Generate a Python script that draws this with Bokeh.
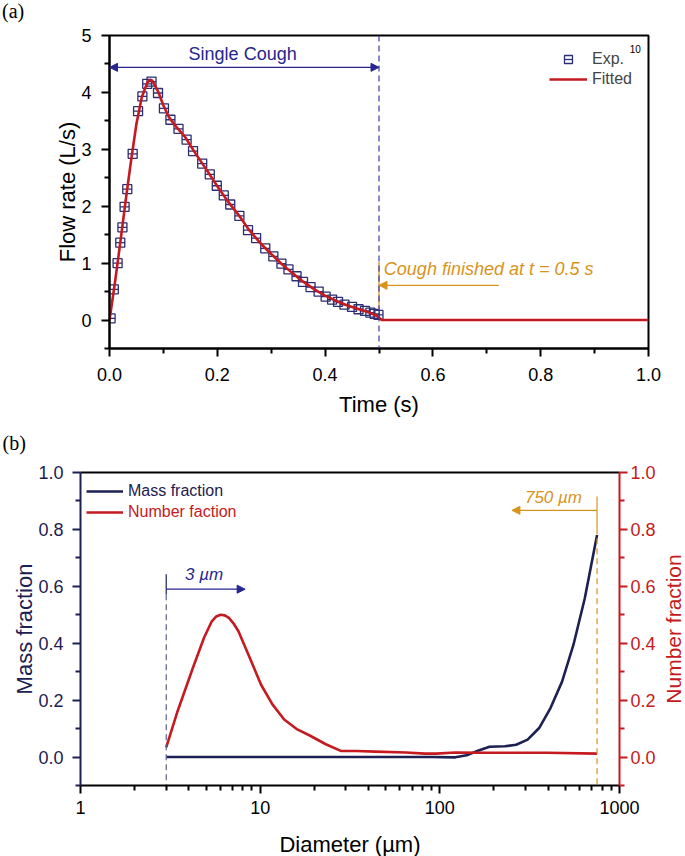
from bokeh.plotting import figure
from bokeh.layouts import row
from bokeh.models import (Range1d, LinearAxis, FixedTicker, PrintfTickFormatter, Title, Div,
                          Arrow, NormalHead, Span, Label, Legend, LegendItem)
from bokeh.embed import file_html
from bokeh.resources import INLINE

# ---------------- Panel (a) data ----------------
exp_time = [0.002, 0.008, 0.015, 0.020, 0.024, 0.028, 0.033, 0.043, 0.053, 0.061, 0.070, 0.078,
            0.090, 0.101, 0.113, 0.128, 0.143, 0.155, 0.172, 0.186, 0.199, 0.212, 0.224, 0.241,
            0.257, 0.272, 0.289, 0.304, 0.319, 0.332, 0.347, 0.359, 0.373, 0.388, 0.401, 0.413,
            0.424, 0.436, 0.450, 0.462, 0.474, 0.484, 0.492, 0.499]
exp_flow = [0.03, 0.54, 1.00, 1.36, 1.63, 1.99, 2.30, 2.92, 3.67, 3.93, 4.15, 4.19,
            3.99, 3.72, 3.52, 3.36, 3.17, 2.97, 2.75, 2.56, 2.36, 2.19, 2.03, 1.83,
            1.58, 1.44, 1.26, 1.12, 0.99, 0.89, 0.77, 0.67, 0.58, 0.50, 0.41, 0.36,
            0.32, 0.27, 0.23, 0.19, 0.16, 0.13, 0.11, 0.09]
fit_time = [0.0, 0.01, 0.02, 0.03, 0.04, 0.05, 0.06, 0.07, 0.075, 0.08, 0.09, 0.10, 0.11, 0.12,
            0.14, 0.16, 0.18, 0.20, 0.22, 0.24, 0.26, 0.28, 0.30, 0.32, 0.34, 0.36, 0.38, 0.40,
            0.42, 0.44, 0.46, 0.48, 0.495, 0.505, 1.0]
fit_flow = [0.0, 0.65, 1.36, 2.10, 2.80, 3.45, 3.92, 4.17, 4.22, 4.20, 4.02, 3.77, 3.57, 3.44,
            3.22, 2.92, 2.64, 2.35, 2.08, 1.84, 1.57, 1.35, 1.16, 0.98, 0.82, 0.67, 0.54, 0.43,
            0.34, 0.26, 0.20, 0.14, 0.08, 0.0, 0.0]
time_ticks = [0.0, 0.2, 0.4, 0.6, 0.8, 1.0]
time_minor = [0.1, 0.3, 0.5, 0.7, 0.9]
flow_ticks = [0, 1, 2, 3, 4, 5]
flow_minor = [-0.5, 0.5, 1.5, 2.5, 3.5, 4.5]

# ---------------- Panel (b) data ----------------
mass_d = [3, 10, 50, 90, 122, 141, 163, 189, 230, 266, 308, 357, 413, 479, 554, 641, 750]
mass_frac = [0.0, 0.0, 0.0, 0.0, -0.001, 0.006, 0.022, 0.036, 0.038, 0.043, 0.061, 0.102,
             0.172, 0.265, 0.394, 0.558, 0.78]
num_d = [3, 3.47, 4.22, 4.87, 5.38, 5.7, 6.02, 6.35, 6.70, 7.1, 7.57, 8.76, 10.1, 11.7, 13.6,
         16.1, 19.1, 23.2, 28.3, 34.3, 43.8, 64.7, 82.6, 95.6, 122, 189, 394, 750]
num_frac = [0.034, 0.161, 0.313, 0.419, 0.477, 0.494, 0.50, 0.498, 0.489, 0.470, 0.442, 0.348,
            0.255, 0.185, 0.132, 0.097, 0.074, 0.045, 0.021, 0.021, 0.019, 0.016, 0.012, 0.012,
            0.016, 0.015, 0.015, 0.012]
diam_ticks = [1, 10, 100, 1000]
diam_minor = [2, 3, 4, 5, 6, 7, 8, 9, 20, 30, 40, 50, 60, 70, 80, 90,
              200, 300, 400, 500, 600, 700, 800, 900]
frac_ticks = [0.0, 0.2, 0.4, 0.6, 0.8, 1.0]
frac_minor = [-0.1, 0.1, 0.3, 0.5, 0.7, 0.9]

# ---------------- styles ----------------
FONT = "Liberation Sans"
SERIF = "Liberation Serif"
NAVY = "#2b2e72"
NAVY_T = "#26268e"
NAVY_DARK = "#1d2052"
RED = "#c41a20"
ORANGE = "#d8931c"


def style_axis(ax, color="black"):
    ax.axis_line_width = 2
    ax.axis_line_color = color
    ax.major_tick_line_width = 2
    ax.minor_tick_line_width = 2
    ax.major_tick_line_color = color
    ax.minor_tick_line_color = color
    ax.major_tick_in = 0
    ax.major_tick_out = 8
    ax.minor_tick_in = 0
    ax.minor_tick_out = 5
    ax.major_label_text_font = FONT
    ax.major_label_text_font_size = "18px"
    ax.major_label_text_color = color
    ax.axis_label_text_font = FONT
    ax.axis_label_text_font_size = "22px"
    ax.axis_label_text_font_style = "normal"
    ax.axis_label_text_color = color


# panel label (a) as a thin text strip above the upper chart
label_a = Div(text="(a)", width=60, height=22, margin=0,
              styles={"font-family": SERIF, "font-size": "20px", "line-height": "22px",
                      "padding-left": "2px", "color": "black"})

# ================= Panel (a) =================
p1 = figure(frame_width=539, frame_height=313, x_range=Range1d(0, 1), y_range=Range1d(-0.5, 5),
            output_backend="svg", toolbar_location=None,
            min_border_left=109, min_border_right=37, min_border_top=13, min_border_bottom=114)
p1.xgrid.visible = False
p1.ygrid.visible = False
p1.outline_line_color = "black"
p1.outline_line_width = 2

p1.xaxis.ticker = FixedTicker(ticks=time_ticks, minor_ticks=time_minor)
p1.xaxis.formatter = PrintfTickFormatter(format="%.1f")
p1.xaxis.axis_label = "Time (s)"
p1.yaxis.ticker = FixedTicker(ticks=flow_ticks, minor_ticks=flow_minor)
p1.yaxis.formatter = PrintfTickFormatter(format="%d")
p1.yaxis.axis_label = "Flow rate (L/s)"
style_axis(p1.xaxis[0])
style_axis(p1.yaxis[0])
p1.xaxis.major_label_standoff = 11
p1.xaxis.axis_label_standoff = 8
p1.yaxis.major_label_standoff = 10
p1.yaxis.axis_label_standoff = -2

# panel label of the lower chart, placed under the upper chart's x-axis title
p1.add_layout(Title(text="(b)", align="left", offset=-107, standoff=20, text_font=SERIF,
                    text_font_size="20px", text_font_style="normal", text_color="black"),
              "below")

sq = p1.scatter(exp_time, exp_flow, marker="square", size=9, fill_color=None,
                line_color=NAVY, line_width=1.3)
dsh = p1.scatter(exp_time, exp_flow, marker="dash", size=9, line_color=NAVY, line_width=1.3)
fit = p1.line(fit_time, fit_flow, line_color=RED, line_width=2.6)

p1.add_layout(Span(location=0.5, dimension="height", line_color="#3b3ba6",
                   line_dash="6 4", line_width=1.2))
p1.add_layout(Arrow(x_start=0.0, y_start=4.44, x_end=0.5, y_end=4.44,
                    start=NormalHead(size=8, fill_color=NAVY_T, line_color=NAVY_T),
                    end=NormalHead(size=8, fill_color=NAVY_T, line_color=NAVY_T),
                    line_color=NAVY_T, line_width=1.2))
p1.add_layout(Label(x=0.247, y=4.68, text="Single Cough", text_align="center",
                    text_baseline="middle", text_font=FONT, text_font_size="18px",
                    text_color=NAVY_T))
p1.segment(x0=[0.5], y0=[0.18], x1=[0.5], y1=[1.02], line_color=ORANGE, line_width=1.3)
p1.add_layout(Arrow(x_start=0.722, y_start=0.61, x_end=0.5, y_end=0.61,
                    end=NormalHead(size=8, fill_color=ORANGE, line_color=ORANGE),
                    line_color=ORANGE, line_width=1.2))
p1.add_layout(Label(x=0.509, y=0.89, text="Cough finished at t = 0.5 s", text_align="left",
                    text_baseline="middle", text_font=FONT, text_font_size="18px",
                    text_font_style="italic", text_color=ORANGE))

leg1 = Legend(items=[LegendItem(label="Exp.", renderers=[sq, dsh]),
                     LegendItem(label="Fitted", renderers=[fit])],
              location=(440, 259), glyph_width=38, glyph_height=20, label_height=20,
              padding=4, spacing=0, label_standoff=5, border_line_color=None,
              background_fill_alpha=0, label_text_font=FONT, label_text_font_size="16px",
              margin=0)
p1.add_layout(leg1)
p1.add_layout(Label(x=0.965, y=4.77, text="10", text_font=FONT, text_font_size="10px",
                    text_baseline="middle", text_align="left", text_color="black"))

# ================= Panel (b) =================
TOP_B = 9
BOTTOM_B = 72
p2 = figure(frame_width=539, frame_height=313, x_axis_type="log", x_range=Range1d(1, 1000),
            y_range=Range1d(-0.1, 1.0), output_backend="svg", toolbar_location=None,
            min_border_left=80, min_border_right=36, min_border_top=TOP_B,
            min_border_bottom=BOTTOM_B)
p2.xgrid.visible = False
p2.ygrid.visible = False
p2.outline_line_color = None
p2.extra_y_ranges = {"num": Range1d(-0.1, 1.0)}

p2.xaxis.ticker = FixedTicker(ticks=diam_ticks, minor_ticks=diam_minor)
p2.xaxis.formatter = PrintfTickFormatter(format="%d")
p2.xaxis.axis_label = "Diameter (\u00b5m)"
p2.yaxis.ticker = FixedTicker(ticks=frac_ticks, minor_ticks=frac_minor)
p2.yaxis.formatter = PrintfTickFormatter(format="%.1f")
p2.yaxis.axis_label = "Mass fraction"
style_axis(p2.xaxis[0])
style_axis(p2.yaxis[0], NAVY_DARK)
p2.xaxis.major_label_standoff = 7
p2.xaxis.axis_label_standoff = 15
p2.yaxis.major_label_standoff = 9
p2.yaxis.axis_label_standoff = -2

rax = LinearAxis(y_range_name="num",
                 ticker=FixedTicker(ticks=frac_ticks, minor_ticks=frac_minor),
                 formatter=PrintfTickFormatter(format="%.1f"))
style_axis(rax, RED)
rax.major_label_standoff = 3
p2.add_layout(rax, "right")
top2 = LinearAxis(ticker=FixedTicker(ticks=[]), axis_line_width=2, axis_line_color="black",
                  major_tick_out=0, minor_tick_out=0, major_label_text_font_size="0px")
p2.add_layout(top2, "above")

mass = p2.line(mass_d, mass_frac, line_color=NAVY_DARK, line_width=2.6)
num = p2.line(num_d, num_frac, line_color=RED, line_width=2.6, y_range_name="num")

# 3 um marker
p2.segment(x0=[3], y0=[0.572], x1=[3], y1=[-0.1], line_color="#5a5f8a", line_width=1.2,
           line_dash="6 4")
p2.segment(x0=[3], y0=[0.642], x1=[3], y1=[0.572], line_color=NAVY_DARK, line_width=1.2)
p2.add_layout(Arrow(x_start=3, y_start=0.59, x_end=8.25, y_end=0.59,
                    end=NormalHead(size=8, fill_color=NAVY_T, line_color=NAVY_T),
                    line_color=NAVY_T, line_width=1.3))
p2.add_layout(Label(x=3.82, y=0.64, text="3 \u00b5m", text_align="left", text_baseline="middle",
                    text_font=FONT, text_font_size="17px", text_font_style="italic",
                    text_color=NAVY_T))
# 750 um marker
p2.segment(x0=[750], y0=[0.804], x1=[750], y1=[-0.1], line_color=ORANGE, line_width=1.2,
           line_dash="6 4")
p2.segment(x0=[750], y0=[0.916], x1=[750], y1=[0.804], line_color=ORANGE, line_width=1.2)
p2.add_layout(Arrow(x_start=750, y_start=0.867, x_end=252, y_end=0.867,
                    end=NormalHead(size=8, fill_color=ORANGE, line_color=ORANGE),
                    line_color=ORANGE, line_width=1.2))
p2.add_layout(Label(x=429, y=0.912, text="750 \u00b5m", text_align="center",
                    text_baseline="middle", text_font=FONT, text_font_size="17px",
                    text_font_style="italic", text_color=ORANGE))

legA = Legend(items=[LegendItem(label="Mass fraction", renderers=[mass])],
              location=(6, 284), glyph_width=37, glyph_height=20, label_height=20,
              padding=0, spacing=0, label_standoff=5, border_line_color=None,
              background_fill_alpha=0, label_text_font=FONT, label_text_font_size="16px",
              label_text_color=NAVY_DARK, margin=0)
legB = Legend(items=[LegendItem(label="Number faction", renderers=[num])],
              location=(6, 263), glyph_width=37, glyph_height=20, label_height=20,
              padding=0, spacing=0, label_standoff=5, border_line_color=None,
              background_fill_alpha=0, label_text_font=FONT, label_text_font_size="16px",
              label_text_color=RED, margin=0)
p2.add_layout(legA)
p2.add_layout(legB)

# thin companion plot carrying the right-hand axis title (reads bottom-to-top)
p3 = figure(frame_width=1, frame_height=313, x_range=Range1d(0, 1),
            y_range=Range1d(-0.1, 1.0), output_backend="svg", toolbar_location=None,
            x_axis_location=None, min_border_left=29, min_border_right=0,
            min_border_top=TOP_B, min_border_bottom=BOTTOM_B)
p3.xgrid.visible = False
p3.ygrid.visible = False
p3.outline_line_color = None
p3.yaxis.ticker = FixedTicker(ticks=[])
p3.yaxis.axis_line_color = None
p3.yaxis.major_tick_out = 0
p3.yaxis.minor_tick_out = 0
p3.yaxis.major_label_text_font_size = "0px"
p3.yaxis.axis_label = "Number fraction"
p3.yaxis.axis_label_text_font = FONT
p3.yaxis.axis_label_text_font_size = "21px"
p3.yaxis.axis_label_text_font_style = "normal"
p3.yaxis.axis_label_text_color = RED
p3.yaxis.axis_label_standoff = 5

open("out.html", "w").write(file_html([label_a, p1, row(p2, p3, spacing=0)], INLINE))
